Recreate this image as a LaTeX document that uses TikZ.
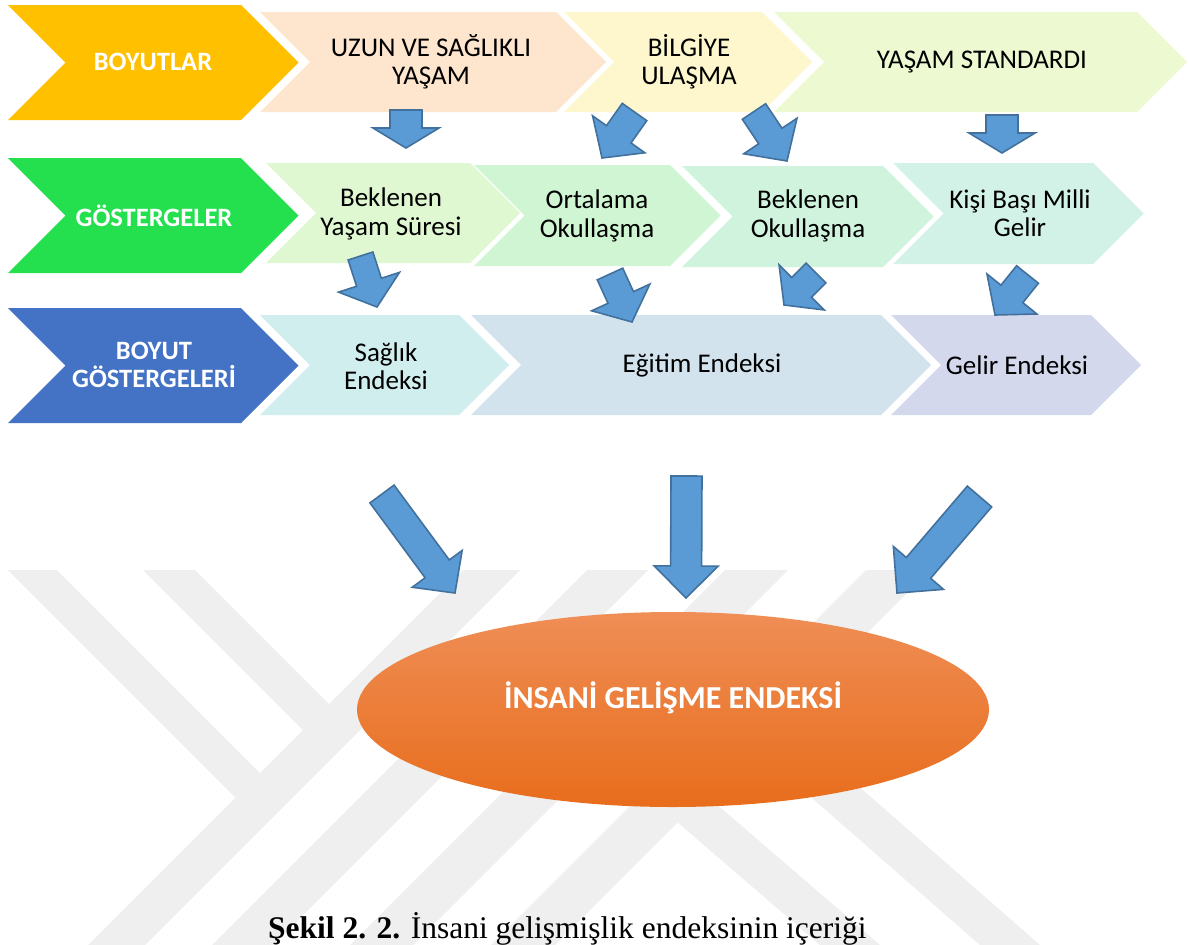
\documentclass[tikz,border=0pt]{standalone}
\usepackage{fontspec}
\setmainfont{Carlito}
\newfontfamily\capfont{Liberation Serif}
\usetikzlibrary{calc,shapes.geometric}

% palette
\definecolor{cYellow}{HTML}{FFC000}
\definecolor{cGreen}{HTML}{24E04E}
\definecolor{cBlue}{HTML}{4472C4}
\definecolor{cPeach}{HTML}{FDE5CE}
\definecolor{cLemon}{HTML}{FEF7CD}
\definecolor{cLime}{HTML}{EDF9D0}
\definecolor{cMintA}{HTML}{E0F8D2}
\definecolor{cMintB}{HTML}{CFF5D2}
\definecolor{cMintC}{HTML}{D0F3DD}
\definecolor{cMintD}{HTML}{D2F1E7}
\definecolor{cCyan}{HTML}{D0EEEE}
\definecolor{cSteel}{HTML}{D2E3ED}
\definecolor{cLav}{HTML}{D3D8EC}
\definecolor{arrFill}{HTML}{5B9BD5}
\definecolor{arrLine}{HTML}{41719C}
\definecolor{wmark}{HTML}{EFEFEF}
\definecolor{ellTop}{HTML}{EF8E56}
\definecolor{ellMid}{HTML}{F47F30}
\definecolor{ellBot}{HTML}{E86D1C}

% chevron: colour, left x, top-right x, top y, bottom y (point depth = half height)
\newcommand\chev[5]{%
  \pgfmathsetmacro\chevmid{(#4+#5)/2}%
  \pgfmathsetmacro\chevdep{(#5-#4)/2}%
  \fill[#1] (#2,#4) -- (#3,#4) -- ({#3+\chevdep},\chevmid) -- (#3,#5) -- (#2,#5)
    -- ({#2+\chevdep},\chevmid) -- cycle;
}

% block arrow: tail, tip, half shaft width, half head width, head length
\newcommand\blockarrow[5]{%
  \coordinate (bbase) at ($(#2)!#5pt!(#1)$);
  \draw[barrow] ($(#1)!#3pt!90:(#2)$) -- ($(bbase)!#3pt!90:(#2)$)
    -- ($(bbase)!#4pt!90:(#2)$) -- (#2) -- ($(bbase)!#4pt!-90:(#2)$)
    -- ($(bbase)!#3pt!-90:(#2)$) -- ($(#1)!#3pt!-90:(#2)$) -- cycle;
}

\tikzset{
  lbl/.style={align=center, inner sep=0pt, font=\fontsize{27}{28.5}\selectfont},
  hdr/.style={align=center, inner sep=0pt, text=white, font=\bfseries\fontsize{26.5}{28}\selectfont},
  barrow/.style={fill=arrFill, draw=arrLine, line width=1.6pt, line join=miter},
}

\begin{document}
\begin{tikzpicture}[x=1pt, y=-1pt]
\useasboundingbox (0,0) rectangle (1189,945);
\fill[white] (0,0) rectangle (1189,945);

% background emblem
\begin{scope}
  \clip (0,570) rectangle (1189,945);
  \fill[wmark] (8,570) -- (57,570) -- (288.5,801.5) -- (235.5,797.5) -- cycle;
  \fill[wmark] (143,570) -- (195,570) -- (329,704) -- (303,730) -- cycle;
  \fill[wmark] (463,570) -- (520,570) -- (145,945) -- (88,945) -- cycle;
  \fill[wmark] (587,570) -- (648,570) -- (273,945) -- (212,945) -- cycle;
  \fill[wmark] (725,570) -- (788,570) -- (413,945) -- (350,945) -- cycle;
  \fill[wmark] (866,570) -- (930,570) -- (555,945) -- (491,945) -- cycle;
  \fill[wmark] (640,790) -- (700,790) -- (880,945) -- (820,945) -- cycle;
  \fill[wmark] (780,770) -- (840,770) -- (1040,945) -- (980,945) -- cycle;
\end{scope}

% row 1
\chev{cYellow}{8}{241}{5}{120}
\chev{cPeach}{260}{556}{12}{112}
\chev{cLemon}{564}{762}{12}{112}
\chev{cLime}{774}{1137}{12}{112}
% row 2
\chev{cGreen}{8}{241}{158}{273}
\chev{cMintA}{266}{470}{163}{263}
\chev{cMintB}{474}{670}{165}{266}
\chev{cMintC}{682}{883}{166}{267}
\chev{cMintD}{893}{1093}{163}{264}
% row 3
\chev{cBlue}{8}{241}{308}{423}
\chev{cCyan}{260}{459}{315}{415}
\chev{cSteel}{471}{881}{315}{415}
\chev{cLav}{891}{1091}{315}{415}

% labels
\node[hdr] (boy) at (153,62) {BOYUTLAR};
\node[lbl] (uzun) at (431,62) {UZUN VE SAĞLIKLI\\YAŞAM};
\node[lbl] (bilgi) at (689,62) {BİLGİYE\\ULAŞMA};
\node[lbl] (stand) at (982,62) {YAŞAM STANDARDI};

\node[hdr] (gost) at (154,216) {GÖSTERGELER};
\node[lbl] (bys) at (391,214) {Beklenen\\Yaşam Süresi};
\node[lbl] (ort) at (597,216) {Ortalama\\Okullaşma};
\node[lbl] (bok) at (808,216) {Beklenen\\Okullaşma};
\node[lbl] (kbm) at (1020,213) {Kişi Başı Milli\\Gelir};

\node[hdr] (bgost) at (154,365) {BOYUT\\GÖSTERGELERİ};
\node[lbl] (sag) at (386,366) {Sağlık\\Endeksi};
\node[lbl] (egt) at (702,365) {Eğitim Endeksi};
\node[lbl] (gel) at (1017,365) {Gelir Endeksi};

% composite index
\node[ellipse, minimum width=632pt, minimum height=195pt, inner sep=0pt,
      top color=ellTop, middle color=ellMid, bottom color=ellBot] (hdi) at (673,709.5) {};
\node[inner sep=0pt, text=white, font=\bfseries\fontsize{32}{36}\selectfont] (hditext) at (673,698)
  {İNSANİ GELİŞME ENDEKSİ};

% arrow end points
\coordinate (a1t) at (406,110);   \coordinate (a1h) at (406,148);
\coordinate (a2t) at (634.5,112); \coordinate (a2h) at (602,158);
\coordinate (a3t) at (754,111.5); \coordinate (a3h) at (787,161);
\coordinate (a4t) at (1002,115);  \coordinate (a4h) at (1002,153);
\coordinate (a5t) at (360.5,256); \coordinate (a5h) at (377,307);
\coordinate (a6t) at (610,274);   \coordinate (a6h) at (632,322);
\coordinate (a7t) at (816,273);   \coordinate (a7h) at (784,305);
\coordinate (a8t) at (1027.5,274.5); \coordinate (a8h) at (995,315);
\coordinate (a9t) at (382,494);   \coordinate (a9h) at (455,593);
\coordinate (a10t) at (686.5,476); \coordinate (a10h) at (686,598);
\coordinate (a11t) at (979.5,496.5); \coordinate (a11h) at (897,593);

\blockarrow{a1t}{a1h}{16}{33}{20}
\blockarrow{a2t}{a2h}{15}{32}{29}
\blockarrow{a3t}{a3h}{14}{32}{30}
\blockarrow{a4t}{a4h}{16}{33}{20}
\blockarrow{a5t}{a5h}{13}{32}{26}
\blockarrow{a6t}{a6h}{14}{32}{27}
\blockarrow{a7t}{a7h}{14}{32}{25}
\blockarrow{a8t}{a8h}{14}{32}{27}
\blockarrow{a9t}{a9h}{15}{31}{30}
\blockarrow{a10t}{a10h}{15.5}{32}{32}
\blockarrow{a11t}{a11h}{16}{33}{33}

% caption
\node[anchor=base west, inner sep=0pt, font=\capfont\fontsize{31.5}{36}\selectfont] (cap) at (268,938)
  {\textbf{Şekil 2. 2.} İnsani gelişmişlik endeksinin içeriği};
\end{tikzpicture}
\end{document}
